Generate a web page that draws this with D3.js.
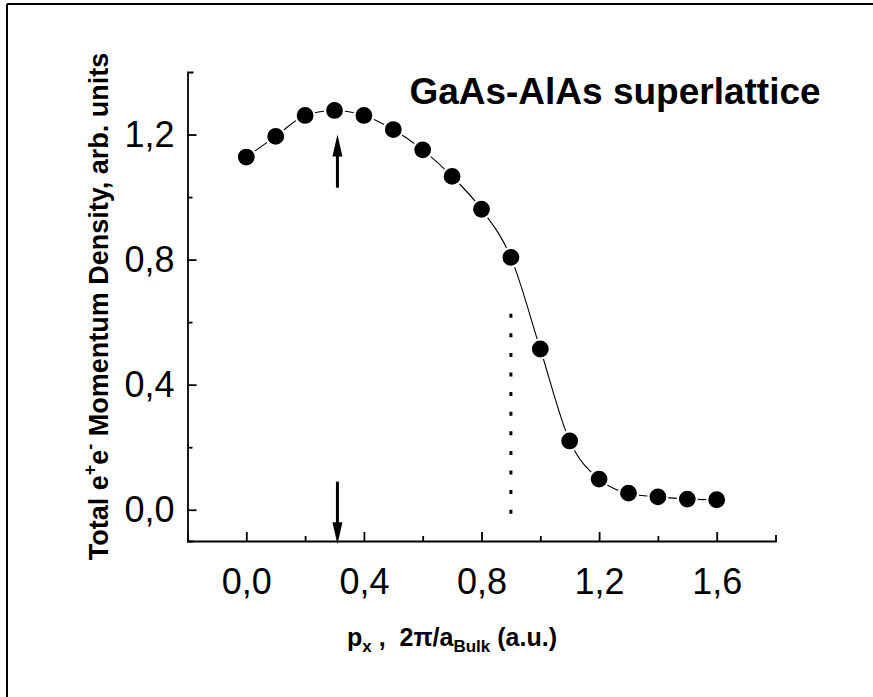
<!DOCTYPE html>
<html><head><meta charset="utf-8">
<script src="https://cdn.jsdelivr.net/npm/d3@7"></script>
<style>
html,body{margin:0;padding:0;background:#fff;}
svg{display:block;font-family:"Liberation Sans",Arial,sans-serif;}
</style></head>
<body>
<svg id="c" width="873" height="697"></svg>
<script>
// ---- data ----
const px = [0.0,0.1,0.2,0.3,0.4,0.5,0.6,0.7,0.8,0.9,1.0,1.1,1.2,1.3,1.4,1.5,1.6];
const density = [1.128,1.194,1.261,1.277,1.261,1.216,1.151,1.066,0.961,0.807,0.514,0.220,0.098,0.053,0.041,0.034,0.032];
const xTicks = [0.0,0.4,0.8,1.2,1.6];
const xMinorTicks = [0.2,0.6,1.0,1.4];
const yTicks = [0.0,0.4,0.8,1.2];
const yMinorTicks = [0.2,0.6,1.0];
const xDomain = [-0.2,1.8];
const yDomain = [-0.1,1.4];
const arrowX = [0.31,0.31];
const arrowFrom = [1.03,0.09];
const arrowTo = [1.20,-0.11];
const dottedX = 0.9;
const dottedY = [0.627,-0.014];
const title = "GaAs-AlAs superlattice";

const svg = d3.select("#c");
const L=187.5, R=775.5, T=72, B=541;
const x = d3.scaleLinear().domain(xDomain).range([L,R]);
const y = d3.scaleLinear().domain(yDomain).range([B,T]);
const fmt = d => d.toFixed(1).replace('.',',');

// frame
svg.append("line").attr("x1",7).attr("x2",7).attr("y1",4).attr("y2",697).attr("stroke","#000").attr("stroke-width",2);
svg.append("line").attr("x1",7).attr("x2",873).attr("y1",4).attr("y2",4).attr("stroke","#000").attr("stroke-width",2);

// axes
const gx = svg.append("g").attr("transform",`translate(0,${B})`)
  .call(d3.axisBottom(x).tickValues(xTicks).tickFormat(fmt).tickSize(-9).tickSizeOuter(-6).tickPadding(27));
const gxm = svg.append("g").attr("transform",`translate(0,${B})`)
  .call(d3.axisBottom(x).tickValues(xMinorTicks).tickFormat("").tickSize(-5).tickSizeOuter(0));
gxm.select(".domain").remove();
const gy = svg.append("g").attr("transform",`translate(${L},0)`)
  .call(d3.axisLeft(y).tickValues(yTicks).tickFormat(fmt).tickSize(-9).tickSizeOuter(-6).tickPadding(13));
const gym = svg.append("g").attr("transform",`translate(${L},0)`)
  .call(d3.axisLeft(y).tickValues(yMinorTicks).tickFormat("").tickSize(-5).tickSizeOuter(0));
gym.select(".domain").remove();
svg.selectAll(".domain, .tick line").attr("stroke","#000").attr("stroke-width",1.8);
svg.selectAll(".tick text").attr("font-family","'Liberation Sans',Arial,sans-serif").attr("font-size",36).attr("fill","#000");
gx.selectAll(".tick text").attr("dy","0.71em");

// dotted line
svg.append("line").attr("x1",x(dottedX)).attr("x2",x(dottedX))
  .attr("y1",y(dottedY[0])).attr("y2",y(dottedY[1]))
  .attr("stroke","#000").attr("stroke-width",3).attr("stroke-dasharray","4,15.6");

// curve
svg.append("path").datum(px.map((v,i)=>[v,density[i]]))
  .attr("d",d3.line().x(d=>x(d[0])).y(d=>y(d[1])).curve(d3.curveMonotoneX))
  .attr("fill","none").attr("stroke","#000").attr("stroke-width",1.1);
svg.append("g").selectAll("circle").data(px).join("circle")
  .attr("cx",d=>x(d)).attr("cy",(d,i)=>y(density[i])).attr("r",9.5)
  .attr("fill","#000").attr("stroke","#fff").attr("stroke-width",2.2);

// arrows
arrowX.forEach((ax,i)=>{
  const xx=x(ax), y1=y(arrowFrom[i]), y2=y(arrowTo[i]);
  const dir = y2<y1 ? -1 : 1, hl=22, hw=5;
  svg.append("line").attr("x1",xx).attr("x2",xx).attr("y1",y1).attr("y2",y2-dir*hl+dir*2)
    .attr("stroke","#000").attr("stroke-width",3);
  svg.append("path").attr("d",`M${xx},${y2}L${xx-hw},${y2-dir*hl}L${xx+hw},${y2-dir*hl}Z`).attr("fill","#000");
});

// title
svg.append("text").attr("x",615).attr("y",104).attr("text-anchor","middle")
  .attr("font-size",37).attr("font-weight","bold").text(title);

// y label
const yl = svg.append("text").attr("transform",`translate(108,${(T+B)/2}) rotate(-90)`)
  .attr("text-anchor","middle").attr("font-size",27).attr("font-weight","bold");
yl.append("tspan").text("Total e");
yl.append("tspan").attr("font-size",18).attr("dy",-12).text("+");
yl.append("tspan").attr("dy",12).text("e");
yl.append("tspan").attr("font-size",18).attr("dy",-12).text("-");
yl.append("tspan").attr("dy",12).text(" Momentum Density, arb. units");

// x label
const xl = svg.append("text").attr("x",452).attr("y",646)
  .attr("text-anchor","middle").attr("font-size",25).attr("font-weight","bold");
xl.append("tspan").text("p");
xl.append("tspan").attr("font-size",17).attr("dy",6).text("x");
xl.append("tspan").attr("dy",-6).attr("xml:space","preserve").text(" ,  2\u03C0/a");
xl.append("tspan").attr("font-size",17).attr("dy",6).text("Bulk");
xl.append("tspan").attr("dy",-6).text(" (a.u.)");
</script>
</body></html>
